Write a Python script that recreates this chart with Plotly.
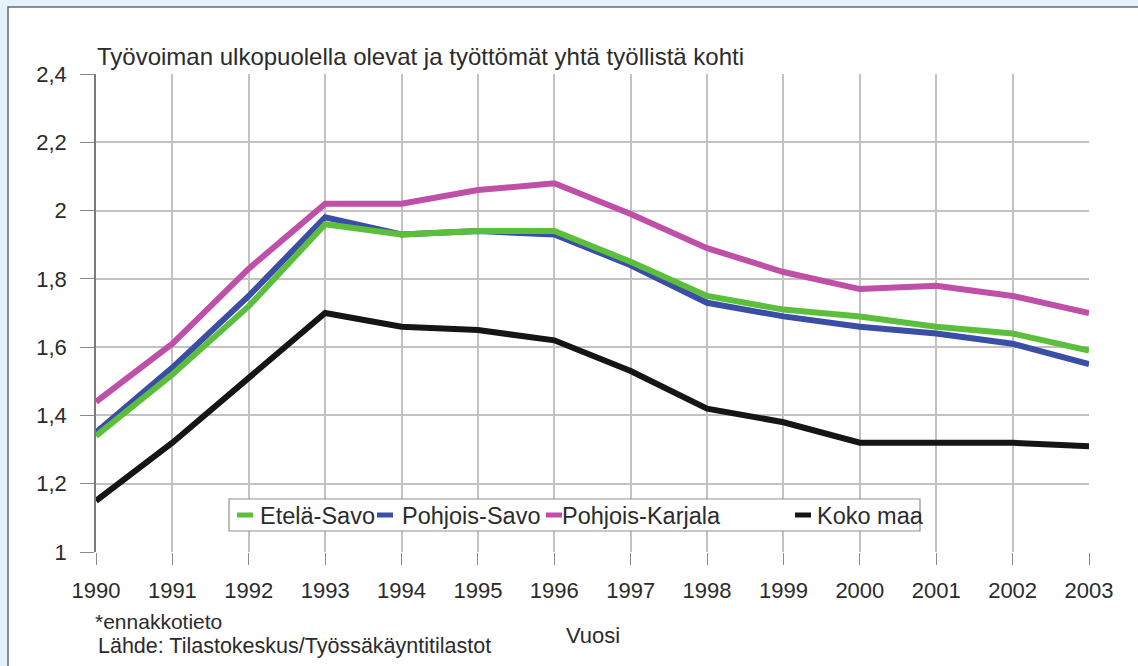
import plotly.graph_objects as go

# Vuodet ja sarjat (luettu kuvasta)
vuodet = list(range(1990, 2004))

etela_savo = [1.34, 1.52, 1.72, 1.96, 1.93, 1.94, 1.94, 1.85, 1.75, 1.71, 1.69, 1.66, 1.64, 1.59]
pohjois_savo = [1.35, 1.54, 1.75, 1.98, 1.93, 1.94, 1.93, 1.84, 1.73, 1.69, 1.66, 1.64, 1.61, 1.55]
pohjois_karjala = [1.44, 1.61, 1.83, 2.02, 2.02, 2.06, 2.08, 1.99, 1.89, 1.82, 1.77, 1.78, 1.75, 1.70]
koko_maa = [1.15, 1.32, 1.51, 1.70, 1.66, 1.65, 1.62, 1.53, 1.42, 1.38, 1.32, 1.32, 1.32, 1.31]

y_tickvals = [1, 1.2, 1.4, 1.6, 1.8, 2, 2.2, 2.4]
y_ticktext = ["1", "1,2", "1,4", "1,6", "1,8", "2", "2,2", "2,4"]

VARIT = {
    'Etelä-Savo': '#5cbf3c',
    'Pohjois-Savo': '#3a4ea6',
    'Pohjois-Karjala': '#c04fa8',
    'Koko maa': '#151515',
}

W, H = 1138, 666
L, R, T, B = 96, 49, 74, 114
FONT = "Liberation Sans, Arial, sans-serif"
TXT = '#2b2b2b'


def px_x(px):
    return (px - L) / (W - L - R)


def px_y(py):
    return (H - B - py) / (H - T - B)


fig = go.Figure()

# piirtojärjestys: vihreä sinisen päälle, musta päällimmäisenä
sarjat = [
    ('Pohjois-Karjala', pohjois_karjala),
    ('Pohjois-Savo', pohjois_savo),
    ('Etelä-Savo', etela_savo),
    ('Koko maa', koko_maa),
]
for nimi, arvot in sarjat:
    fig.add_trace(go.Scatter(
        x=vuodet, y=arvot, name=nimi, mode='lines',
        line=dict(color=VARIT[nimi], width=6),
        showlegend=False,
    ))

# oma selite (lyhyet viivat kuten alkuperäisessä)
shapes = [
    # valkoinen kehys sinisellä taustalla
    dict(type='rect', xref='paper', yref='paper', layer='below',
         x0=px_x(8), x1=px_x(W + 20), y0=px_y(7), y1=px_y(H + 20),
         fillcolor='white', line=dict(color='#6a6a6a', width=1.5)),
    dict(type='rect', xref='paper', yref='paper',
         x0=px_x(229), x1=px_x(920), y0=px_y(499), y1=px_y(531),
         fillcolor='white', line=dict(color='#909090', width=1.2)),
]
annotations = []
selite = [('Etelä-Savo', 237, 258), ('Pohjois-Savo', 377, 400),
          ('Pohjois-Karjala', 546, 560), ('Koko maa', 795, 815)]
for nimi, sx, tx in selite:
    shapes.append(dict(type='line', xref='paper', yref='paper',
                       x0=px_x(sx), x1=px_x(sx + 16), y0=px_y(515), y1=px_y(515),
                       line=dict(color=VARIT[nimi], width=5)))
    annotations.append(dict(xref='paper', yref='paper', x=px_x(tx), y=px_y(516),
                            xanchor='left', yanchor='middle', showarrow=False,
                            text=nimi, font=dict(size=23.5, color=TXT, family=FONT)))

annotations += [
    dict(xref='paper', yref='paper', x=px_x(95), y=px_y(57), xanchor='left', yanchor='middle',
         showarrow=False, text='Työvoiman ulkopuolella olevat ja työttömät yhtä työllistä kohti',
         font=dict(size=24, color=TXT, family=FONT)),
    dict(xref='paper', yref='paper', x=px_x(93), y=px_y(621), xanchor='left', yanchor='middle',
         showarrow=False, text='*ennakkotieto', font=dict(size=21, color=TXT, family=FONT)),
    dict(xref='paper', yref='paper', x=px_x(96), y=px_y(646), xanchor='left', yanchor='middle',
         showarrow=False, text='Lähde: Tilastokeskus/Työssäkäyntitilastot',
         font=dict(size=21.5, color=TXT, family=FONT)),
    dict(xref='paper', yref='paper', x=px_x(564), y=px_y(635), xanchor='left', yanchor='middle',
         showarrow=False, text='Vuosi', font=dict(size=22, color=TXT, family=FONT)),
]

fig.update_layout(
    width=W, height=H,
    margin=dict(l=L, r=R, t=T, b=B),
    paper_bgcolor='#e4f2fc',
    plot_bgcolor='white',
    showlegend=False,
    font=dict(family=FONT, size=22, color=TXT),
    shapes=shapes,
    annotations=annotations,
    xaxis=dict(
        range=[1990, 2003], tickvals=vuodet, ticktext=[str(v) for v in vuodet],
        showgrid=True, gridcolor='#c2c2c2', gridwidth=1.5,
        ticks='outside', ticklen=12, tickcolor='#8a8a8a', tickwidth=1.2,
        ticklabelstandoff=7, zeroline=False, showline=False,
        tickfont=dict(size=22, color=TXT),
    ),
    yaxis=dict(
        range=[1, 2.4], tickvals=y_tickvals, ticktext=y_ticktext,
        showgrid=True, gridcolor='#c2c2c2', gridwidth=1.5,
        ticks='outside', ticklen=14, tickcolor='#8a8a8a', tickwidth=1.2,
        ticklabelstandoff=9, zeroline=False,
        showline=True, linecolor='#7a7a7a', linewidth=1.5,
        tickfont=dict(size=22, color=TXT),
    ),
)

# sivun oletusmarginaali pois, jotta kuva alkaa ikkunan kulmasta
fig.write_html("out.html", config={'displayModeBar': False},
               post_script="document.body.style.margin='0';")
